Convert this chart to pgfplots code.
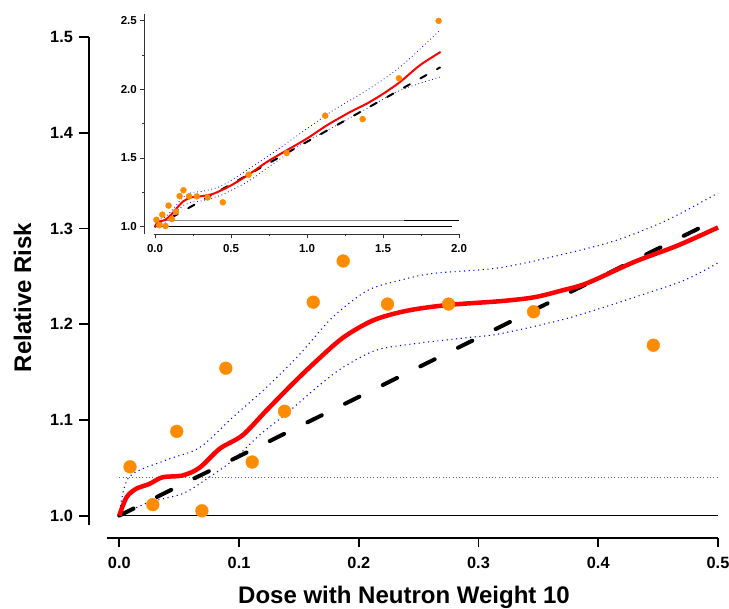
\documentclass[border=0pt]{standalone}
\usepackage{fontspec}
\setmainfont{Liberation Sans}
\usepackage{pgfplots}
\pgfplotsset{compat=1.18}
\usepackage{pgfplotstable}
\definecolor{ptorange}{HTML}{FF8C00}

% main-range fitted curve
\pgfplotstableread{
x y
0 1.0
0.006 1.019
0.014 1.028
0.025 1.033
0.036 1.040
0.053 1.042
0.067 1.050
0.084 1.070
0.103 1.084
0.123 1.110
0.145 1.138
0.165 1.162
0.187 1.186
0.212 1.204
0.240 1.214
0.274 1.220
0.318 1.224
0.346 1.228
0.369 1.235
0.391 1.243
0.430 1.265
0.466 1.282
0.500 1.301
}\fitmain
\pgfplotstableread{
x y
0 1.0
0.008 1.040
0.039 1.058
0.067 1.071
0.095 1.103
0.123 1.134
0.151 1.169
0.178 1.207
0.207 1.235
0.235 1.246
0.262 1.253
0.318 1.259
0.374 1.274
0.416 1.288
0.458 1.309
0.500 1.337
}\upmain
\pgfplotstableread{
x y
0 1.0
0.025 1.014
0.053 1.023
0.075 1.040
0.095 1.058
0.117 1.084
0.140 1.107
0.165 1.134
0.187 1.155
0.215 1.173
0.249 1.180
0.291 1.186
0.318 1.190
0.374 1.206
0.430 1.228
0.472 1.246
0.500 1.264
}\lowmain
% full-range curves for the inset
\pgfplotstableread{
x y
0 1.0
0.014 1.028
0.036 1.040
0.067 1.050
0.103 1.084
0.145 1.138
0.187 1.186
0.240 1.214
0.318 1.224
0.391 1.243
0.500 1.301
0.625 1.386
0.735 1.471
0.866 1.556
0.998 1.641
1.130 1.738
1.283 1.835
1.393 1.896
1.502 1.969
1.612 2.054
1.743 2.176
1.879 2.273
}\fitall
\pgfplotstableread{
x y
0 1.0
0.008 1.040
0.067 1.071
0.123 1.134
0.178 1.207
0.235 1.246
0.318 1.259
0.416 1.288
0.500 1.337
0.735 1.507
0.954 1.678
1.173 1.848
1.393 1.993
1.612 2.163
1.875 2.431
}\upall
\pgfplotstableread{
x y
0 1.0
0.053 1.023
0.095 1.058
0.140 1.107
0.187 1.155
0.249 1.180
0.318 1.190
0.430 1.228
0.500 1.264
0.620 1.335
0.735 1.425
0.954 1.593
1.173 1.726
1.393 1.860
1.612 1.993
1.875 2.090
}\lowall
\pgfplotstableread{
x y
0.009 1.051
0.028 1.0115
0.048 1.088
0.069 1.005
0.089 1.154
0.111 1.056
0.138 1.109
0.162 1.223
0.187 1.266
0.224 1.221
0.275 1.221
0.346 1.213
0.446 1.178
0.616 1.379
0.866 1.537
1.120 1.809
1.366 1.784
1.605 2.081
1.866 2.499
}\pts

\begin{document}
\begin{tikzpicture}
\useasboundingbox (0,0) rectangle (729pt,609pt);
% ---------------- main axis
\begin{axis}[
  at={(107.3pt,83.8pt)}, anchor=south west,
  scale only axis, width=610.7pt, height=488.2pt,
  xmin=-0.01, xmax=0.5, ymin=0.99, ymax=1.5,
  axis x line*=bottom, axis y line*=left,
  axis x line shift=12.8pt, axis y line shift=18.4pt,
  axis line style={line width=1.8pt},
  tick align=outside, major tick length=9.5pt,
  every tick/.style={black, line width=1.8pt},
  xtick={0,0.1,0.2,0.3,0.4,0.5},
  ytick={1,1.1,1.2,1.3,1.4,1.5},
  tick label style={font=\bfseries\fontsize{16.3}{16.3}\selectfont},
  xticklabel style={yshift=-6pt},
  yticklabel style={xshift=-3pt},
  clip=false,
  /pgf/number format/fixed,
  /pgf/number format/fixed zerofill,
  /pgf/number format/precision=1,
  /pgf/number format/assume math mode=true,
]
\addplot[black, line width=1pt] coordinates {(0,1) (0.5,1)};
\addplot[black!60, line width=0.9pt, dash pattern=on 1pt off 2.3pt] coordinates {(0,1.04) (0.5,1.04)};
\addplot[blue, line width=1.1pt, dash pattern=on 1.1pt off 3.6pt, smooth] table {\upmain};
\addplot[blue, line width=1.1pt, dash pattern=on 1.1pt off 3.6pt, smooth] table {\lowmain};
\addplot[black, line width=4pt, line cap=round, dash pattern=on 16pt off 26pt] coordinates {(0,1) (0.5,1.31)};
\addplot[red, line width=4.5pt, smooth, line join=round] table {\fitmain};
\addplot[only marks, mark=*, mark size=6.4pt, mark options={draw=ptorange, fill=ptorange}, restrict x to domain=0:0.5] table {\pts};
\end{axis}
% ---------------- inset axis
\begin{axis}[
  at={(153.5pt,375.4pt)}, anchor=south west,
  scale only axis, width=305.5pt, height=219.7pt,
  xmin=-0.01, xmax=2, ymin=0.95, ymax=2.55,
  axis x line*=bottom, axis y line*=left,
  axis x line shift=0.7pt, axis y line shift=9.2pt,
  axis line style={line width=0.9pt, black!80},
  tick align=outside, major tick length=4pt, minor tick length=2pt,
  every tick/.style={black!80, line width=0.9pt},
  xtick={0,0.5,1,1.5,2}, minor xtick={0.25,0.75,1.25,1.75},
  ytick={1,1.5,2,2.5}, minor ytick={1.25,1.75,2.25},
  tick label style={font=\bfseries\fontsize{11.5}{11.5}\selectfont},
  xticklabel style={yshift=-3pt},
  clip=false,
  /pgf/number format/fixed,
  /pgf/number format/fixed zerofill,
  /pgf/number format/precision=1,
  /pgf/number format/assume math mode=true,
]
\addplot[black, line width=0.9pt] coordinates {(0,1) (1.957,1)};
\addplot[black!45, line width=0.9pt] coordinates {(0,1.044) (1.64,1.044)};
\addplot[black, line width=0.9pt] coordinates {(1.64,1.044) (2,1.044)};
\addplot[blue, line width=0.8pt, dash pattern=on 0.8pt off 2.8pt, smooth] table {\upall};
\addplot[blue, line width=0.8pt, dash pattern=on 0.8pt off 2.8pt, smooth] table {\lowall};
\addplot[black, line width=2pt, line cap=round, dash pattern=on 7pt off 12pt] coordinates {(0,1) (1.875,2.16)};
\addplot[red, line width=2pt, smooth, line join=round] table {\fitall};
\addplot[only marks, mark=*, mark size=3pt, mark options={draw=ptorange, fill=ptorange}] table {\pts};
\end{axis}
% ---------------- axis titles
\node[font=\bfseries\fontsize{24}{24}\selectfont, anchor=base, inner sep=0pt] at (404pt,5.5pt) {Dose with Neutron Weight 10};
\node[font=\bfseries\fontsize{24}{24}\selectfont, rotate=90, anchor=base, inner sep=0pt] at (31pt,311.5pt) {Relative Risk};
\end{tikzpicture}
\end{document}
